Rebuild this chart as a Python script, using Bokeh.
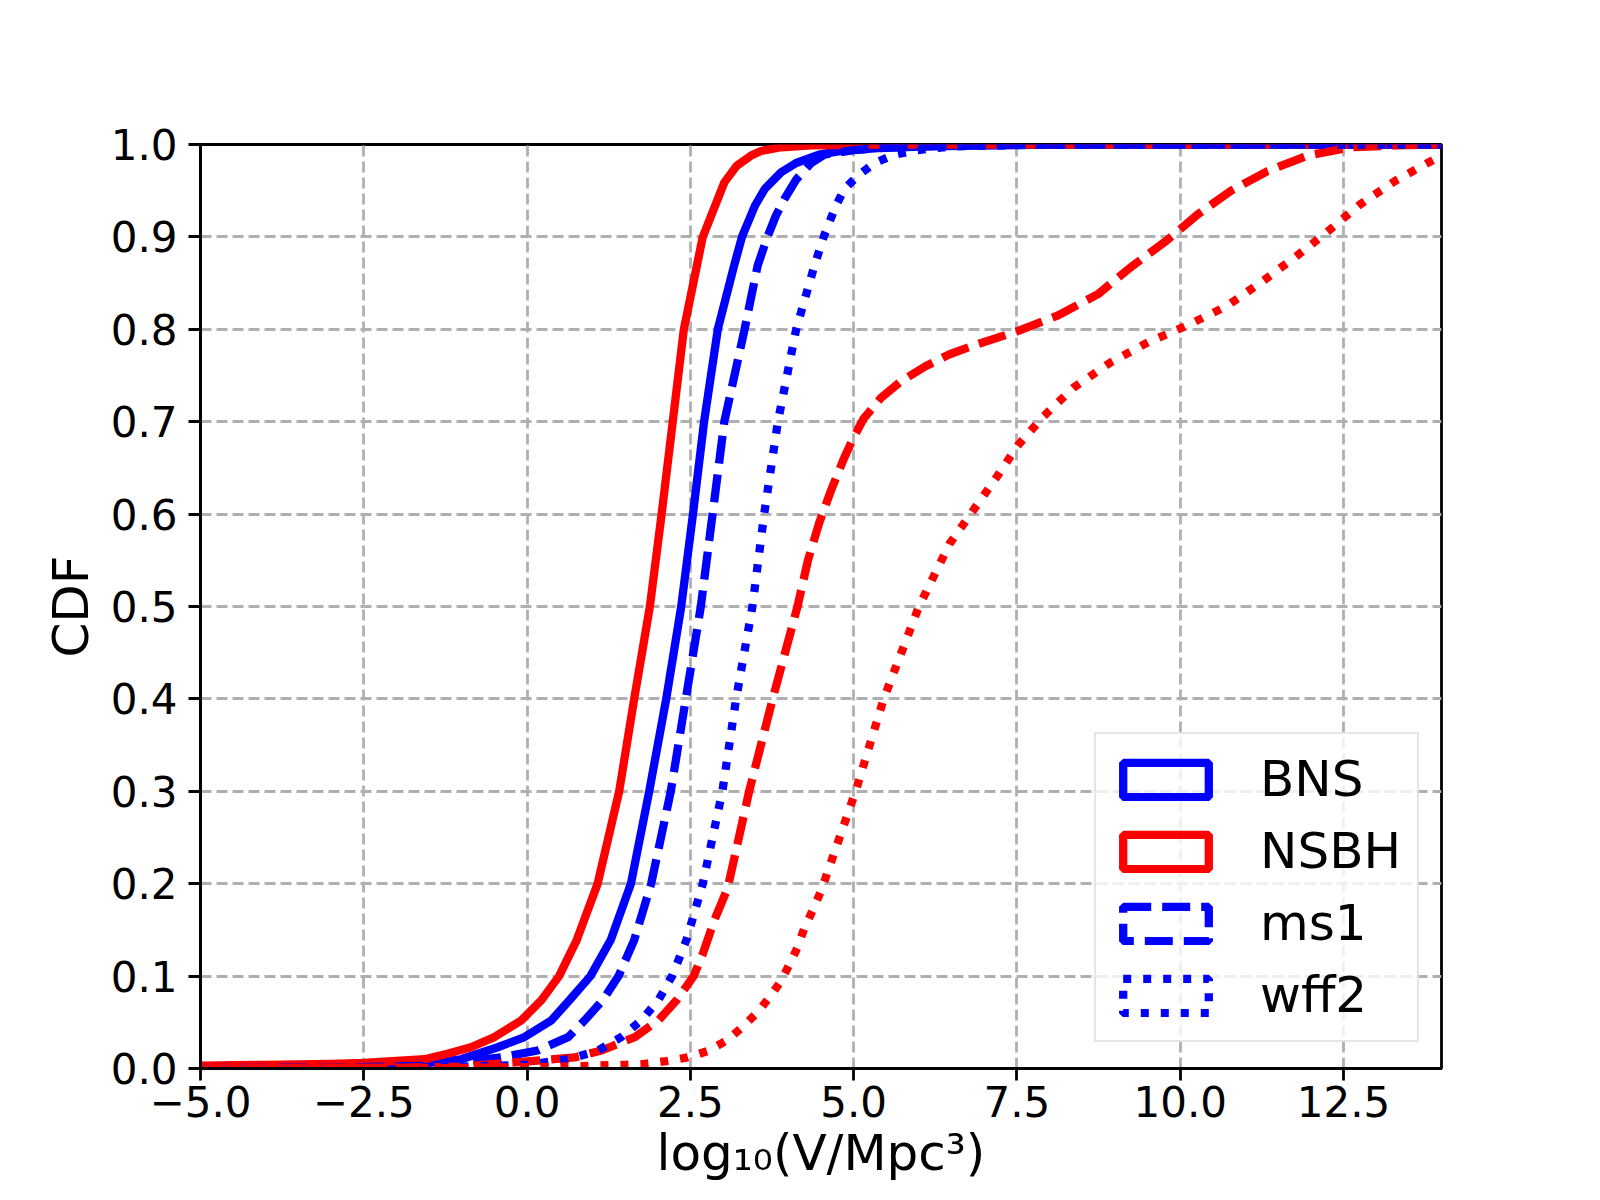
from bokeh.plotting import figure
from bokeh.models import Range1d, Legend, LegendItem, FixedTicker
from bokeh.embed import file_html
from bokeh.resources import INLINE

# ---------------- data ----------------
x_ticks = [-5.0, -2.5, 0.0, 2.5, 5.0, 7.5, 10.0, 12.5]
x_tick_labels = ["\u22125.0", "\u22122.5", "0.0", "2.5", "5.0", "7.5", "10.0", "12.5"]
y_ticks = [0.0, 0.1, 0.2, 0.3, 0.4, 0.5, 0.6, 0.7, 0.8, 0.9, 1.0]
y_tick_labels = ["0.0", "0.1", "0.2", "0.3", "0.4", "0.5", "0.6", "0.7", "0.8", "0.9", "1.0"]

x_label = "log\u2081\u2080(V/Mpc\u00b3)"
y_label = "CDF"
legend_labels = ["BNS", "NSBH", "ms1", "wff2"]

# BNS (blue solid)
bns_x = [-5, -4, -3, -2.08, -1.5, -1.01, -0.45, -0.04, 0.37, 0.65, 0.97, 1.28, 1.59, 1.87,
         2.13, 2.36, 2.54, 2.71, 2.92, 3.17, 3.29, 3.49, 3.64, 3.89, 4.12, 4.47, 4.81,
         5.37, 6.13, 8, 14]
bns_y = [0.001, 0.002, 0.003, 0.004, 0.006, 0.010, 0.023, 0.034, 0.052, 0.074, 0.10, 0.139,
         0.20, 0.30, 0.40, 0.50, 0.60, 0.70, 0.80, 0.869, 0.90, 0.934, 0.952, 0.970, 0.980,
         0.989, 0.993, 0.996, 0.998, 1.0, 1.0]

# NSBH (red solid)
nsbh_x = [-5, -4, -3, -2.5, -1.57, -1.22, -0.86, -0.50, -0.09, 0.22, 0.49, 0.76, 1.08, 1.41,
          1.64, 1.88, 2.06, 2.23, 2.40, 2.60, 2.69, 2.88, 3.02, 3.21, 3.43, 3.58, 3.89,
          4.35, 5.5, 14]
nsbh_y = [0.003, 0.004, 0.005, 0.006, 0.010, 0.016, 0.023, 0.034, 0.052, 0.074, 0.10, 0.139,
          0.20, 0.30, 0.40, 0.50, 0.60, 0.70, 0.80, 0.869, 0.90, 0.934, 0.959, 0.977, 0.988,
          0.993, 0.997, 0.999, 1.0, 1.0]

# ms1, BNS (blue dashed)
ms1_bns_x = [-5, -3, -1.5, -0.40, 0.16, 0.63, 0.88, 1.16, 1.40, 1.64, 1.90, 2.20, 2.43,
             2.66, 2.84, 3.02, 3.33, 3.53, 3.68, 3.81, 3.94, 4.12, 4.35, 4.55, 5.0, 5.6, 7, 14]
ms1_bns_y = [0.0005, 0.001, 0.003, 0.012, 0.0195, 0.034, 0.052, 0.074, 0.10, 0.139, 0.20,
             0.30, 0.40, 0.50, 0.60, 0.70, 0.80, 0.869, 0.90, 0.923, 0.941, 0.962, 0.980,
             0.989, 0.994, 0.997, 1.0, 1.0]

# wff2, BNS (blue dotted)
wff2_bns_x = [-5, -2, -1, 0, 0.63, 1.09, 1.44, 1.75, 2.01, 2.22, 2.44, 2.69, 2.99, 3.20,
              3.45, 3.63, 3.84, 4.12, 4.40, 4.54, 4.73, 4.86, 5.06, 5.32, 5.62, 5.98, 6.5, 8, 14]
wff2_bns_y = [0.0, 0.0005, 0.002, 0.004, 0.010, 0.0195, 0.034, 0.052, 0.074, 0.10, 0.139,
              0.20, 0.30, 0.40, 0.50, 0.60, 0.70, 0.80, 0.869, 0.90, 0.934, 0.952, 0.966,
              0.980, 0.989, 0.994, 0.998, 1.0, 1.0]

# ms1, NSBH (red dashed)
ms1_nsbh_x = [-5, -2, -1, 0.22, 0.73, 1.14, 1.65, 2.01, 2.29, 2.55, 2.69, 2.87, 3.07, 3.40,
              3.76, 4.14, 4.30, 4.47, 4.65, 4.85, 5.0, 5.15, 5.42, 5.73, 6.10, 6.47, 6.90,
              7.51, 8.13, 8.74, 9.24, 9.79, 10.28, 10.78, 11.33, 11.95, 12.62, 13.3, 14]
ms1_nsbh_y = [0.0005, 0.001, 0.002, 0.009, 0.012, 0.0195, 0.034, 0.052, 0.074, 0.10, 0.124,
              0.161, 0.195, 0.30, 0.40, 0.50, 0.55, 0.59, 0.625, 0.66, 0.683, 0.703, 0.726,
              0.744, 0.760, 0.773, 0.784, 0.798, 0.815, 0.838, 0.867, 0.896, 0.925, 0.950,
              0.971, 0.988, 0.997, 0.999, 1.0]

# wff2, NSBH (red dotted)
wff2_nsbh_x = [-5, -1, 0.5, 1.50, 1.80, 2.13, 2.46, 2.77, 3.05, 3.30, 3.53, 3.71, 3.89,
               4.02, 4.14, 4.24, 4.37, 4.50, 5.03, 5.46, 6.0, 6.47, 6.83, 7.17, 7.51, 7.91,
               8.37, 8.93, 9.51, 10.10, 10.71, 11.24, 11.76, 12.26, 12.75, 13.30, 13.89, 14.0]
wff2_nsbh_y = [0.0, 0.0005, 0.002, 0.004, 0.005, 0.008, 0.012, 0.019, 0.030, 0.045, 0.061,
               0.077, 0.095, 0.113, 0.131, 0.151, 0.171, 0.192, 0.30, 0.40, 0.50, 0.568,
               0.604, 0.638, 0.674, 0.706, 0.737, 0.764, 0.786, 0.804, 0.825, 0.851, 0.878,
               0.906, 0.935, 0.961, 0.984, 0.987]

# ---------------- styling ----------------
BLUE = "#0000ff"
RED = "#ff0000"
FONT = "DejaVu Sans"
LW = 8.3
DASH = "28 11"
DOT = "8 12"

FRAME_L, FRAME_T, FRAME_R, FRAME_B = 200, 144, 1441, 1068
W, H = 1584, 1184

p = figure(width=W, height=H, output_backend="svg", toolbar_location=None,
           x_range=Range1d(-5, 14), y_range=Range1d(0, 1),
           min_border_left=FRAME_L, min_border_right=W - FRAME_R,
           min_border_top=FRAME_T, min_border_bottom=H - FRAME_B)

p.background_fill_color = "white"
p.border_fill_color = "white"
p.outline_line_color = "black"
p.outline_line_width = 2.8
p.outline_line_alpha = 1.0

# curves
p.line(bns_x, bns_y, line_color=BLUE, line_width=LW, line_join="round")
p.line(nsbh_x, nsbh_y, line_color=RED, line_width=LW, line_join="round")
p.line(ms1_bns_x, ms1_bns_y, line_color=BLUE, line_width=LW, line_dash=DASH, line_join="round")
p.line(ms1_nsbh_x, ms1_nsbh_y, line_color=RED, line_width=LW, line_dash=DASH, line_join="round")
p.line(wff2_bns_x, wff2_bns_y, line_color=BLUE, line_width=LW, line_dash=DOT, line_join="round")
p.line(wff2_nsbh_x, wff2_nsbh_y, line_color=RED, line_width=LW, line_dash=DOT, line_join="round")

# legend proxies (outlined rectangles, placed outside the visible range)
proxy_styles = [(BLUE, "solid"), (RED, "solid"), (BLUE, DASH), (BLUE, DOT)]
proxies = []
for col, dash in proxy_styles:
    r = p.quad(left=[100], right=[101], bottom=[5], top=[6], fill_alpha=0.0,
               line_color=col, line_width=LW, line_dash=dash)
    proxies.append(r)

legend = Legend(items=[LegendItem(label=lab, renderers=[r]) for lab, r in zip(legend_labels, proxies)],
                location=(894, 26))
legend.label_text_font = FONT
legend.label_text_font_size = "50px"
legend.label_text_color = "black"
legend.glyph_width = 107
legend.glyph_height = 43
legend.label_standoff = 41
legend.padding = 16
legend.spacing = 14
legend.margin = 0
legend.border_line_color = "#cccccc"
legend.border_line_width = 2.8
legend.background_fill_color = "white"
legend.background_fill_alpha = 0.8
p.add_layout(legend)

# axes
p.xaxis.ticker = FixedTicker(ticks=x_ticks)
p.yaxis.ticker = FixedTicker(ticks=y_ticks)
p.xaxis.major_label_overrides = {t: l for t, l in zip(x_ticks, x_tick_labels)}
p.yaxis.major_label_overrides = {t: l for t, l in zip(y_ticks, y_tick_labels)}

for ax in (p.xaxis[0], p.yaxis[0]):
    ax.major_label_text_font = FONT
    ax.major_label_text_font_size = "42px"
    ax.major_label_text_color = "black"
    ax.axis_line_color = "black"
    ax.axis_line_width = 2.8
    ax.major_tick_line_color = "black"
    ax.major_tick_line_width = 2.8
    ax.major_tick_out = 12
    ax.major_tick_in = 0
    ax.minor_tick_out = 0
    ax.minor_tick_in = 0
    ax.axis_label_text_font = FONT
    ax.axis_label_text_font_size = "50px"
    ax.axis_label_text_font_style = "normal"
    ax.axis_label_text_color = "black"

p.xaxis.axis_label = x_label
p.yaxis.axis_label = y_label
p.xaxis.major_label_standoff = 5
p.xaxis.axis_label_standoff = 4
p.yaxis.major_label_standoff = 11
p.yaxis.axis_label_standoff = 8

# grid
p.xgrid.ticker = FixedTicker(ticks=x_ticks)
p.ygrid.ticker = FixedTicker(ticks=y_ticks)
for g in (p.xgrid[0], p.ygrid[0]):
    g.grid_line_color = "#b0b0b0"
    g.grid_line_width = 2.8
    g.grid_line_dash = "11 5"

open("out.html", "w").write(file_html(p, INLINE))
